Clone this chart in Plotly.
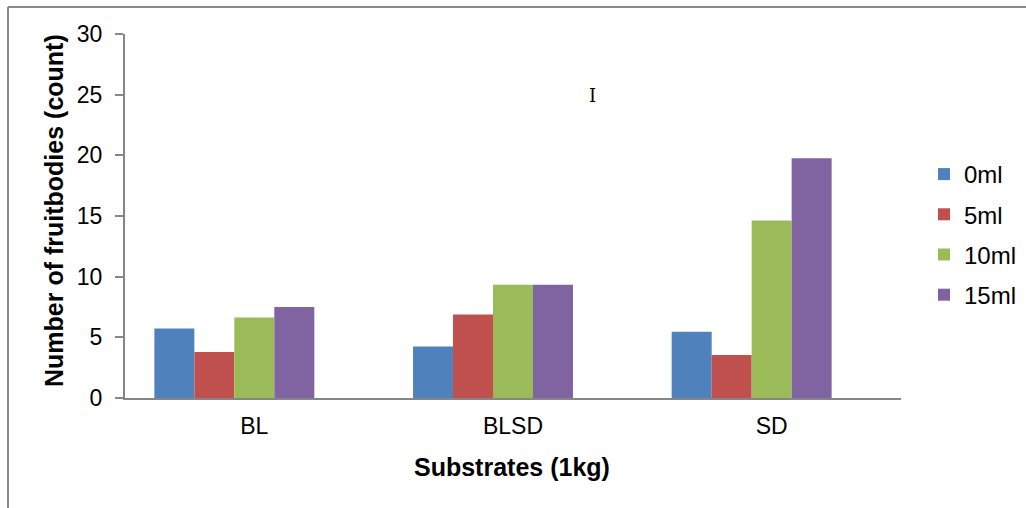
import plotly.graph_objects as go

categories = ["BL", "BLSD", "SD"]
series_names = ["0ml", "5ml", "10ml", "15ml"]
v_0ml = [5.73, 4.24, 5.45]
v_5ml = [3.80, 6.88, 3.55]
v_10ml = [6.64, 9.34, 14.63]
v_15ml = [7.50, 9.34, 19.75]
hidden_series = [0, 0, 0]
colors = ["#4F81BD", "#C0504D", "#9BBB59", "#8064A2"]
y_ticks = [0, 5, 10, 15, 20, 25, 30]

W, H = 1026, 508
L, R, T, B = 125, 125, 34, 110
pw = W - L - R
ph = H - T - B

def px_x(x):
    return (x - L) / pw

def px_y(y):
    return (H - B - y) / ph

fig = go.Figure()
for i, (name, vals) in enumerate(zip(series_names, [v_0ml, v_5ml, v_10ml, v_15ml])):
    fig.add_trace(go.Bar(x=categories, y=vals, name=name, marker_color=colors[i],
                         marker_line_width=0, legendgroup=name))
fig.add_trace(go.Bar(x=categories, y=hidden_series, name="", showlegend=False,
                     marker_color="rgba(0,0,0,0)", marker_line_width=0, hoverinfo="skip"))

font_family = "Liberation Sans, Arial, sans-serif"
fig.update_layout(
    width=W, height=H,
    margin=dict(l=L, r=R, t=T, b=B, autoexpand=False),
    paper_bgcolor="white", plot_bgcolor="white",
    barmode="group", bargap=0.227, bargroupgap=0,
    font=dict(family=font_family, size=23, color="black"),
    showlegend=True,
    legend=dict(x=px_x(924), xanchor="left", y=px_y(152), yanchor="top",
                traceorder="grouped", tracegroupgap=6,
                font=dict(size=24, family=font_family), bgcolor="rgba(0,0,0,0)"),
    xaxis=dict(showline=True, linecolor="#868686", linewidth=2, ticks="",
               showgrid=False, ticklabelstandoff=6,
               tickfont=dict(size=23)),
    yaxis=dict(range=[0, 30], tickvals=y_ticks, showline=True, linecolor="#868686",
               linewidth=2, ticks="outside", ticklen=8, tickcolor="#868686",
               tickwidth=1.5, showgrid=False, zeroline=False, ticklabelstandoff=8,
               tickfont=dict(size=23)),
    annotations=[
        dict(text="<b>Number of fruitbodies (count)</b>", textangle=-90,
             x=px_x(54), y=px_y(211), xref="paper", yref="paper",
             xanchor="center", yanchor="middle",
             showarrow=False, font=dict(size=25)),
        dict(text="<b>Substrates (1kg)</b>",
             x=px_x(512), y=px_y(467), xref="paper", yref="paper",
             xanchor="center", yanchor="middle",
             showarrow=False, font=dict(size=25)),
        dict(text="I", x=px_x(592), y=px_y(96), xref="paper", yref="paper",
             xanchor="center", yanchor="middle",
             showarrow=False, font=dict(size=18, family="DejaVu Serif")),
    ],
    shapes=[
        dict(type="line", xref="paper", yref="paper", x0=px_x(8), x1=px_x(1030),
             y0=px_y(7), y1=px_y(7), line=dict(color="#888888", width=2)),
        dict(type="line", xref="paper", yref="paper", x0=px_x(8), x1=px_x(8),
             y0=px_y(7), y1=px_y(512), line=dict(color="#888888", width=2)),
    ],
)

fig.write_html("out.html")
